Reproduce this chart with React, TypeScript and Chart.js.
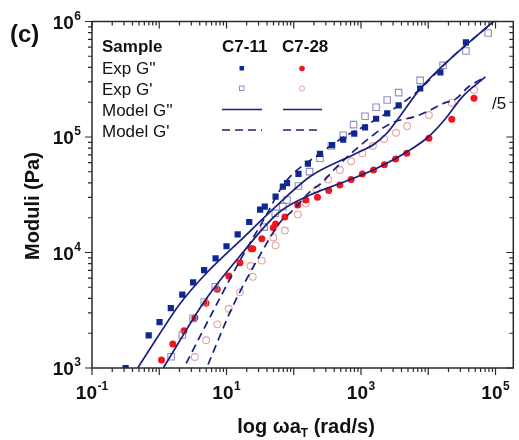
import React, { useEffect, useRef } from 'react';
import { Chart, registerables } from 'chart.js';
Chart.register(...registerables);

const FONT = '"Liberation Sans", Arial, Helvetica, sans-serif';
const NAVY = '#1b1f7e';
const BLUE = '#0d2a94';
const LIGHTBLUE = '#8b8fc2';
const RED = '#f2161c';
const PINK = '#e6a2a2';
const AXIS = '#2a2a2a';

// C7-11 experimental G''
const c711GppW = [0.316, 0.697, 1.01, 1.486, 2.203, 3.19, 4.645, 6.887, 10.0, 14.66, 21.78, 31.62, 37.07, 53.7, 68.87, 79.43, 117.5, 162.2, 245.5, 371.5, 543.3, 794.3, 1148, 1679, 2455, 3631, 7586, 15136, 36308];
const c711GppG = [1000, 1919, 2500, 3304, 4315, 5521, 7047, 8913, 11324, 14355, 18365, 23500, 24945, 30410, 37154, 39811, 47863, 58884, 71285, 85114, 94842, 107152, 121339, 143880, 160325, 187932, 263027, 363078, 660693];
// C7-11 experimental G'
const c711GpW = [1.5, 2.203, 3.19, 4.677, 6.808, 36.31, 53.09, 68.87, 79.43, 117.5, 171.8, 245.5, 363.1, 543.3, 776.2, 1148, 1679, 2455, 3631, 7586, 16596, 36308, 77625];
const c711GpG = [1253, 1932, 2692, 3724, 5058, 16596, 21827, 24945, 28510, 37670, 50119, 65464, 83560, 103514, 127938, 151356, 180717, 208930, 242103, 309030, 416869, 555904, 794328];
// C7-28 experimental G'' (/5)
const c728GppW = [1.081, 1.589, 2.333, 3.381, 4.966, 7.295, 10.81, 15.85, 23.33, 24.55, 33.5, 49.66, 53.7, 73.79, 114.8, 151.4, 225.4, 331.1, 484.2, 712.9, 1047, 1535, 2223, 3273, 4786, 10233, 22387, 47863];
const c728GppG = [1172, 1614, 2104, 2729, 3631, 4797, 6266, 8166, 10789, 10789, 13183, 16406, 17660, 20277, 25763, 28510, 30061, 34356, 38371, 42954, 47863, 51761, 57544, 64565, 72444, 97724, 142233, 216272];
// C7-28 experimental G' (/5)
const c728GpW = [3.381, 4.966, 7.295, 10.81, 15.85, 22.75, 24.55, 33.5, 49.66, 53.7, 73.79, 114.8, 151.4, 218.8, 323.6, 485.3, 712.9, 1047, 1500, 2203, 3311, 4853, 10233, 22387, 47863];
const c728GpG = [1245, 1738, 2388, 3258, 4519, 7638, 6166, 8511, 13490, 11535, 15488, 21380, 26669, 35156, 42954, 51761, 61660, 72444, 83560, 96161, 108893, 124451, 154882, 198153, 255270];

// Model curves
const m711GppW = [0.4786, 1.0, 1.995, 5.012, 15.85, 50.12, 177.8, 794.3, 1585, 2399, 3802, 7413, 18197, 93325];
const m711GppG = [1000, 1950, 3548, 6607, 12589, 23988, 45709, 70795, 87096, 107152, 151356, 257040, 436516, 1000000];
const m711GpW = [2.512, 6.823, 15.85, 37.07, 72.95, 251.2, 555.9, 1096, 3802, 7413, 18197, 93325];
const m711GpG = [1096, 3388, 8511, 19953, 39811, 72444, 100000, 123027, 190546, 257040, 436516, 1000000];
const m728GppW = [1.148, 4.853, 15.85, 58.21, 177.8, 555.9, 1718, 4786, 10000, 17378, 32359, 70795];
const m728GppG = [1000, 3882, 9333, 21878, 31623, 40738, 53703, 74131, 100000, 140281, 223872, 331131];
const m728GpW = [5.321, 12.3, 31.62, 64.57, 91.2, 177.8, 269.2, 371.5, 555.9, 1259, 2818, 6607, 10471, 16596, 25704, 39811, 70795];
const m728GpG = [1072, 3388, 9550, 18621, 22387, 33884, 40738, 50119, 63096, 95499, 131826, 151356, 169824, 194984, 213796, 272270, 331131];

const xTickLabels = [{ v: 0.1, e: '-1' }, { v: 10, e: '1' }, { v: 1000, e: '3' }, { v: 100000, e: '5' }];
const yTickLabels = [{ v: 1000, e: '3' }, { v: 10000, e: '4' }, { v: 100000, e: '5' }, { v: 1000000, e: '6' }];

const pts = (xs: number[], ys: number[]) => xs.map((x, i) => ({ x, y: ys[i] }));

function drawPow(ctx: CanvasRenderingContext2D, exp: string, x: number, y: number, align: 'center' | 'right') {
  ctx.font = `bold 19px ${FONT}`;
  const w1 = ctx.measureText('10').width;
  ctx.font = `bold 12px ${FONT}`;
  const w2 = ctx.measureText(exp).width;
  const total = w1 + w2 + 0.5;
  const left = align === 'center' ? x - total / 2 : x - total;
  ctx.textAlign = 'left';
  ctx.textBaseline = 'alphabetic';
  ctx.font = `bold 19px ${FONT}`;
  ctx.fillText('10', left, y);
  ctx.font = `bold 12px ${FONT}`;
  ctx.fillText(exp, left + w1 + 0.5, y - 9);
}

const framePlugin = {
  id: 'frame',
  afterDraw(chart: any) {
    const ctx: CanvasRenderingContext2D = chart.ctx;
    const { left, right, top, bottom } = chart.chartArea;
    const xs = chart.scales.x;
    const ys = chart.scales.y;
    ctx.save();
    ctx.strokeStyle = AXIS;
    ctx.fillStyle = '#111';
    ctx.lineWidth = 1.5;
    ctx.strokeRect(left, top, right - left, bottom - top);
    ctx.lineWidth = 1.2;
    for (let k = -1; k <= 5; k++) {
      for (let m = 1; m <= 9; m++) {
        const v = m * Math.pow(10, k);
        if (v < xs.min * 0.999 || v > xs.max) continue;
        const px = xs.getPixelForValue(v);
        const len = m === 1 ? 7 : 4;
        ctx.beginPath();
        ctx.moveTo(px, bottom);
        ctx.lineTo(px, bottom + len);
        ctx.moveTo(px, top);
        ctx.lineTo(px, top + len);
        ctx.stroke();
      }
    }
    for (let k = 3; k <= 6; k++) {
      for (let m = 1; m <= 9; m++) {
        const v = m * Math.pow(10, k);
        if (v < ys.min * 0.999 || v > ys.max * 1.001) continue;
        const py = ys.getPixelForValue(v);
        const len = m === 1 ? 7 : 4;
        ctx.beginPath();
        ctx.moveTo(left, py);
        ctx.lineTo(left - len, py);
        ctx.moveTo(right, py);
        ctx.lineTo(right - len, py);
        ctx.stroke();
      }
    }
    ctx.fillStyle = '#111';
    for (const t of xTickLabels) drawPow(ctx, t.e, xs.getPixelForValue(t.v), bottom + 31, 'center');
    for (const t of yTickLabels) drawPow(ctx, t.e, left - 11, ys.getPixelForValue(t.v) + 7, 'right');

    ctx.font = `bold 20px ${FONT}`;
    ctx.textAlign = 'center';
    ctx.textBaseline = 'middle';
    ctx.save();
    ctx.translate(33, 206);
    ctx.rotate(-Math.PI / 2);
    ctx.fillText('Moduli (Pa)', 0, 0);
    ctx.restore();

    const p1 = 'log \u03c9a';
    const p2 = 'T';
    const p3 = ' (rad/s)';
    ctx.font = `bold 20px ${FONT}`;
    const w1 = ctx.measureText(p1).width;
    const w3 = ctx.measureText(p3).width;
    ctx.font = `bold 12px ${FONT}`;
    const w2 = ctx.measureText(p2).width;
    const tot = w1 + w2 + w3;
    const sx = 306 - tot / 2;
    ctx.textAlign = 'left';
    ctx.textBaseline = 'alphabetic';
    ctx.font = `bold 20px ${FONT}`;
    ctx.fillText(p1, sx, 433);
    ctx.font = `bold 12px ${FONT}`;
    ctx.fillText(p2, sx + w1, 437);
    ctx.font = `bold 20px ${FONT}`;
    ctx.fillText(p3, sx + w1 + w2, 433);

    ctx.font = `bold 24px ${FONT}`;
    ctx.fillText('(c)', 10, 42);

    ctx.font = `bold 17px ${FONT}`;
    ctx.fillText('Sample', 102, 52);
    ctx.fillText('C7-11', 222, 52);
    ctx.fillText('C7-28', 282, 52);
    ctx.font = `17px ${FONT}`;
    ctx.fillText("Exp G''", 102, 74);
    ctx.fillText("Exp G'", 102, 95);
    ctx.fillText("Model G''", 102, 115.5);
    ctx.fillText("Model G'", 102, 136.5);
    ctx.fillStyle = BLUE;
    ctx.fillRect(239.5, 66, 4.5, 4.5);
    ctx.fillStyle = RED;
    ctx.beginPath();
    ctx.arc(302, 68.5, 2.8, 0, Math.PI * 2);
    ctx.fill();
    ctx.lineWidth = 1;
    ctx.strokeStyle = LIGHTBLUE;
    ctx.strokeRect(239.5, 86, 4.5, 4.5);
    ctx.strokeStyle = PINK;
    ctx.beginPath();
    ctx.arc(302, 88.5, 2.6, 0, Math.PI * 2);
    ctx.stroke();
    ctx.strokeStyle = NAVY;
    ctx.lineWidth = 1.7;
    ctx.beginPath();
    ctx.moveTo(222, 109.5); ctx.lineTo(262, 109.5);
    ctx.moveTo(283, 109.5); ctx.lineTo(322, 109.5);
    ctx.stroke();
    ctx.setLineDash([8, 5]);
    ctx.beginPath();
    ctx.moveTo(222, 130); ctx.lineTo(262, 130);
    ctx.moveTo(283, 130); ctx.lineTo(322, 130);
    ctx.stroke();
    ctx.setLineDash([]);

    ctx.fillStyle = '#111';
    ctx.font = `17px ${FONT}`;
    ctx.fillText('/5', 492, 109);
    ctx.restore();
  },
};

export default function App() {
  const ref = useRef<HTMLCanvasElement>(null);
  useEffect(() => {
    const canvas = ref.current;
    if (!canvas) return;
    const lineDs = (label: string, xs: number[], ys: number[], dashed: boolean) => ({
      type: 'line' as const,
      label,
      data: pts(xs, ys),
      showLine: true,
      borderColor: NAVY,
      borderWidth: 1.7,
      borderDash: dashed ? [8, 5] : [],
      pointRadius: 0,
      fill: false,
      tension: 0.3,
      cubicInterpolationMode: 'monotone' as const,
      order: 0,
    });
    const chart = new Chart(canvas, {
      type: 'scatter',
      data: {
        datasets: [
          lineDs("C7-11 Model G''", m711GppW, m711GppG, false),
          lineDs("C7-11 Model G'", m711GpW, m711GpG, true),
          lineDs("C7-28 Model G''", m728GppW, m728GppG, false),
          lineDs("C7-28 Model G'", m728GpW, m728GpG, true),
          {
            label: "C7-11 Exp G''",
            data: pts(c711GppW, c711GppG),
            pointStyle: 'rect',
            pointRadius: 4.4,
            backgroundColor: BLUE,
            borderColor: BLUE,
            borderWidth: 0,
            order: 1,
          },
          {
            label: "C7-11 Exp G'",
            data: pts(c711GpW, c711GpG),
            pointStyle: 'rect',
            pointRadius: 4.6,
            backgroundColor: 'rgba(255,255,255,0)',
            borderColor: LIGHTBLUE,
            borderWidth: 1.1,
            order: 1,
          },
          {
            label: "C7-28 Exp G''",
            data: pts(c728GppW, c728GppG),
            pointStyle: 'circle',
            pointRadius: 3.5,
            backgroundColor: RED,
            borderColor: RED,
            borderWidth: 0,
            order: 1,
          },
          {
            label: "C7-28 Exp G'",
            data: pts(c728GpW, c728GpG),
            pointStyle: 'circle',
            pointRadius: 3.4,
            backgroundColor: 'rgba(255,255,255,0)',
            borderColor: PINK,
            borderWidth: 1.1,
            order: 1,
          },
        ] as any,
      },
      options: {
        responsive: false,
        animation: false,
        devicePixelRatio: 1,
        layout: { padding: { left: 92, top: 21.5, right: 1, bottom: 72 } },
        plugins: { legend: { display: false }, tooltip: { enabled: false } },
        scales: {
          x: { type: 'logarithmic', min: 0.1, max: 184000, display: false },
          y: { type: 'logarithmic', min: 1000, max: 1000000, display: false },
        },
      },
      plugins: [framePlugin],
    });
    return () => chart.destroy();
  }, []);
  return (
    <div style={{ position: 'fixed', left: 0, top: 0, width: 519, height: 440, background: '#fff' }}>
      <canvas ref={ref} width={519} height={440} style={{ display: 'block', width: 519, height: 440 }} />
    </div>
  );
}
